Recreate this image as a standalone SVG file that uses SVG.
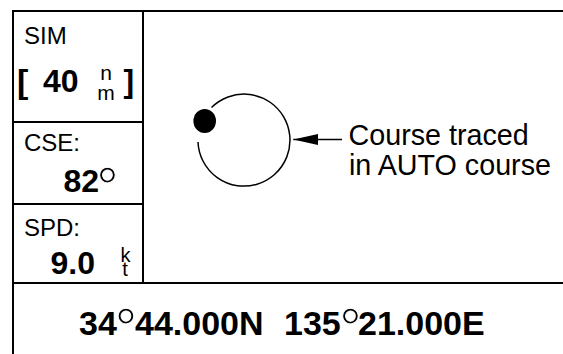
<svg xmlns="http://www.w3.org/2000/svg" width="563" height="354" viewBox="0 0 563 354">
<style>
.ln{stroke:#000;stroke-width:2;fill:none}
.thin{stroke-width:1.5}
.t{font-family:"Liberation Sans",Arial,Helvetica,sans-serif;fill:#000}
.b{font-weight:bold}
.lab{font-size:24px}
.deg{font-family:"Liberation Sans",Arial,sans-serif;font-weight:normal;font-size:56px;stroke:#fff;stroke-width:1px}
</style>
<defs>
<marker id="ah" markerWidth="25" markerHeight="12" refX="25" refY="6" orient="auto" markerUnits="userSpaceOnUse">
<path d="M0,0.5 L25,6 L0,11.5 Z" fill="#000"/>
</marker>
</defs>
<g id="frame">
<path class="ln" d="M563,11 H13 V354 M13,283 H563 M143,11 V283 M13,122 H143 M13,204 H143"/>
</g>
<g id="range">
<text class="t lab" x="24" y="44">SIM</text>
<text class="t b" x="17" y="93" font-size="34">[</text>
<text class="t b" x="43" y="92" font-size="32">40</text>
<text class="t" x="106" y="79.5" font-size="21" text-anchor="middle">n</text>
<text class="t" x="106" y="100" font-size="21" text-anchor="middle">m</text>
<text class="t b" x="123.5" y="92" font-size="32">]</text>
</g>
<g id="course">
<text class="t lab" x="24" y="150.7">CSE:</text>
<text class="t b" x="63.5" y="192" font-size="32">82</text>
<text class="t deg" x="96.2" y="206">°</text>
</g>
<g id="speed">
<text class="t lab" x="24" y="236">SPD:</text>
<text class="t b" x="50.5" y="274" font-size="32">9.0</text>
<text class="t" x="125.5" y="261.5" font-size="20" text-anchor="middle">k</text>
<text class="t" x="125" y="276" font-size="20" text-anchor="middle">t</text>
</g>
<g id="position">
<text class="t b" x="79" y="335" font-size="34">34</text>
<text class="t deg" x="114.7" y="347">°</text>
<text class="t b" x="135" y="335" font-size="34">44.000N</text>
<text class="t b" x="284" y="335" font-size="34">135</text>
<text class="t deg" x="339.2" y="347">°</text>
<text class="t b" x="358" y="335" font-size="34">21.000E</text>
</g>
<g id="track">
<path class="ln thin" d="M198,142 A46,46 0 1 0 211.5,107.5"/>
<ellipse cx="204.7" cy="121" rx="11.3" ry="12" fill="#000"/>
</g>
<g id="connectors">
<line class="ln thin" x1="342" y1="139.5" x2="293.3" y2="139.5" marker-end="url(#ah)"/>
</g>
<g id="label">
<text class="t" x="348.5" y="145" font-size="28.7">Course traced</text>
<text class="t" x="349" y="175" font-size="28.7">in AUTO course</text>
</g>
</svg>
